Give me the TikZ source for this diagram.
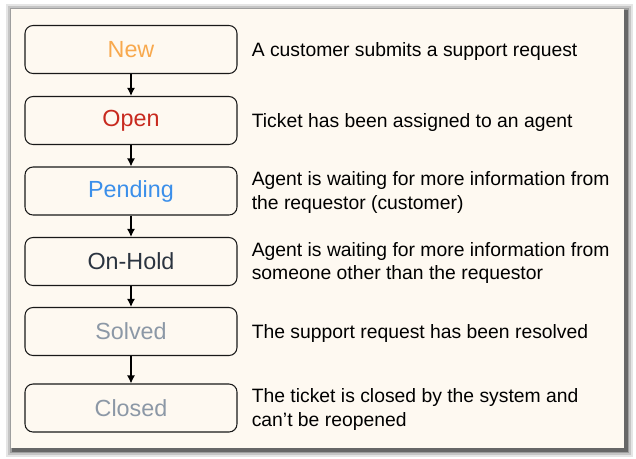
\documentclass[tikz,border=0pt]{standalone}
\usepackage{fontspec}
\setmainfont{Liberation Sans}
\usetikzlibrary{arrows.meta,positioning}

\definecolor{paper}{HTML}{FEF9F1}
\definecolor{cnew}{HTML}{F8A94E}
\definecolor{copen}{HTML}{C82A1F}
\definecolor{cpend}{HTML}{3B8FEA}
\definecolor{chold}{HTML}{2B3440}
\definecolor{cdone}{HTML}{8C98A6}

\begin{document}
\begin{tikzpicture}[
  x=0.75pt, y=-0.75pt,
  state/.style={draw=black!90, line width=0.8pt, rounded corners=6pt, fill=paper,
    minimum width=159pt, minimum height=36pt, inner sep=0pt,
    font=\fontsize{17.5}{20}\selectfont},
  desc/.style={anchor=west, inner sep=0pt, align=left, right=10.5pt of #1,
    yshift=-1.2pt, font=\fontsize{14.5}{17.5}\selectfont},
  arrow/.style={-{Latex[length=6pt,width=6pt]}, line width=1pt}
]
\useasboundingbox (0,0) rectangle (636,458);
% soft shadow round the frame
\foreach \s/\o in {7/0.1,5/0.14,3/0.2,1.5/0.35}
  \fill[black, opacity=\o] (11-\s+2,9-\s+2) rectangle (624+\s+2,448+\s+2);
\fill[paper] (11,9) rectangle (624,448);

\node[state, text=cnew]  (new)     at (131,49.5)  {New};
\node[state, text=copen] (open)    at (131,120.5) {Open};
\node[state, text=cpend] (pending) at (131,191)   {Pending};
\node[state, text=chold] (onhold)  at (131,261.5) {On-Hold};
\node[state, text=cdone] (solved)  at (131,331.5) {Solved};
\node[state, text=cdone] (closed)  at (131,408)   {Closed};

\node[desc=new]     (dnew)     {A customer submits a support request};
\node[desc=open]    (dopen)    {Ticket has been assigned to an agent};
\node[desc=pending] (dpending) {Agent is waiting for more information from\\the requestor (customer)};
\node[desc=onhold]  (donhold)  {Agent is waiting for more information from\\someone other than the requestor};
\node[desc=solved]  (dsolved)  {The support request has been resolved};
\node[desc=closed]  (dclosed)  {The ticket is closed by the system and\\can’t be reopened};

\draw[arrow] (new) -- (open);
\draw[arrow] (open) -- (pending);
\draw[arrow] (pending) -- (onhold);
\draw[arrow] (onhold) -- (solved);
\draw[arrow] (solved) -- (closed);
\end{tikzpicture}
\end{document}
